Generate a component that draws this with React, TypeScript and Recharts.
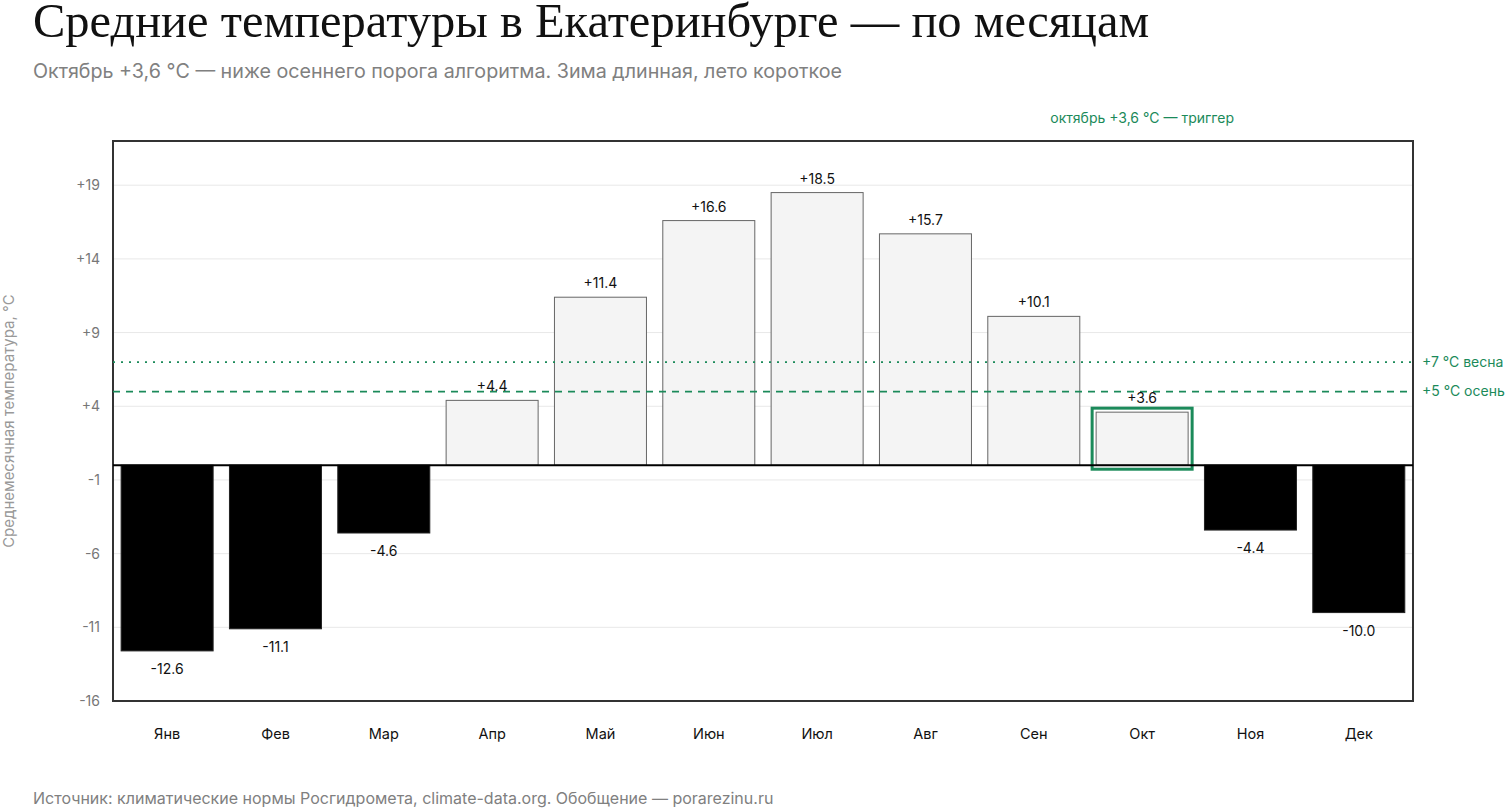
import React from 'react';
import { BarChart, Bar, XAxis, YAxis, CartesianGrid, ReferenceLine, ReferenceArea, LabelList, Cell } from 'recharts';

// месяцы и нормы температур
const months = ['Янв', 'Фев', 'Мар', 'Апр', 'Май', 'Июн', 'Июл', 'Авг', 'Сен', 'Окт', 'Ноя', 'Дек'];
const temps = [-12.6, -11.1, -4.6, 4.4, 11.4, 16.6, 18.5, 15.7, 10.1, 3.6, -4.4, -10.0];
const yTicks = [-16, -11, -6, -1, 4, 9, 14, 19];
const thresholds = [
  { value: 7, label: '+7 °C весна', dash: '2 6' },
  { value: 5, label: '+5 °C осень', dash: '7 6' },
];
const highlightMonth = 'Окт';

const data = months.map((m, i) => ({ month: m, t: temps[i] }));

const GREEN = '#1b8a5a';
const SANS = 'Inter, "Noto Sans", sans-serif';

const fmt = (v: number) => (v > 0 ? '+' : '') + v.toFixed(1);

const BarShape = (props: any) => {
  const { x, y, width, height, payload } = props;
  const top = Math.min(y, y + height);
  const h = Math.abs(height);
  const neg = payload.t < 0;
  return (
    <g>
      <rect x={x} y={top} width={width} height={h}
        fill={neg ? '#000' : '#f4f4f4'} stroke={neg ? '#222' : '#666'} strokeWidth={1} />
      {payload.month === highlightMonth && (
        <rect x={x - 4} y={top - 4} width={width + 8} height={h + 8}
          fill="none" stroke={GREEN} strokeWidth={3} />
      )}
    </g>
  );
};

const ValueLabel = (props: any) => {
  const { x, y, width, height, value } = props;
  const top = Math.min(y, y + height);
  const bottom = Math.max(y, y + height);
  const cx = x + width / 2;
  return (
    <text x={cx} y={value >= 0 ? top - 9 : bottom + 23} textAnchor="middle"
      fontSize={14} fill="#111" fontFamily={SANS}>
      {fmt(value)}
    </text>
  );
};

export default function App() {
  return (
    <div style={{ position: 'absolute', left: 0, top: 0, width: 1505, height: 809, background: '#fff', fontFamily: SANS }}>
      <div style={{ position: 'absolute', left: 33, top: 0, lineHeight: '42px', fontFamily: '"Liberation Serif", serif', fontSize: 48.5, color: '#111', whiteSpace: 'nowrap' }}>
        Средние температуры в Екатеринбурге — по месяцам
      </div>
      <div style={{ position: 'absolute', left: 33, top: 59, fontSize: 19.7, color: '#808080', whiteSpace: 'nowrap' }}>
        Октябрь +3,6 °C — ниже осеннего порога алгоритма. Зима длинная, лето короткое
      </div>
      <div style={{ position: 'absolute', left: 0, top: 0 }}>
        <BarChart width={1505} height={809} data={data} barCategoryGap="7.5%"
          margin={{ top: 141, right: 92, bottom: 78, left: 0 }}>
          <CartesianGrid vertical={false} stroke="#e8e8e8" />
          <XAxis dataKey="month" axisLine={false} tickLine={false} tickSize={0} tickMargin={28} height={30}
            tick={{ fontSize: 14.5, fill: '#111', fontFamily: SANS }} />
          <YAxis domain={[-16, 22]} ticks={yTicks} width={113} axisLine={false} tickLine={false}
            tickSize={0} tickMargin={13} tickFormatter={(v: number) => (v > 0 ? '+' + v : String(v))}
            tick={{ fontSize: 14, fill: '#777', fontFamily: SANS }}
            label={{ value: 'Среднемесячная температура, °C', angle: -90, position: 'insideLeft', offset: 9,
              style: { textAnchor: 'middle', fontSize: 15, fill: '#999', fontFamily: SANS } }} />
          <ReferenceArea y1={-16} y2={22} fill="none" stroke="#333" strokeWidth={2} ifOverflow="visible" />
          {thresholds.map((th) => (
            <ReferenceLine key={th.value} y={th.value} stroke={GREEN} strokeWidth={1.8} strokeDasharray={th.dash}
              label={{ value: th.label, position: 'right', offset: 9, fill: GREEN, fontSize: 14, fontFamily: SANS }} />
          ))}
          <ReferenceLine x={highlightMonth} stroke="none"
            label={{ value: 'октябрь +3,6 °C — триггер', position: 'top', offset: 18, fill: GREEN, fontSize: 14, fontFamily: SANS }} />
          <Bar dataKey="t" shape={<BarShape />} isAnimationActive={false}>
            {data.map((d) => (
              <Cell key={d.month} fill={d.t < 0 ? '#000' : '#f4f4f4'} />
            ))}
            <LabelList dataKey="t" content={<ValueLabel />} />
          </Bar>
          <ReferenceLine y={0} stroke="#000" strokeWidth={2} />
        </BarChart>
      </div>
      <div style={{ position: 'absolute', left: 33, top: 788, fontSize: 16, color: '#808080', whiteSpace: 'nowrap' }}>
        Источник: климатические нормы Росгидромета, climate-data.org. Обобщение — porarezinu.ru
      </div>
    </div>
  );
}
